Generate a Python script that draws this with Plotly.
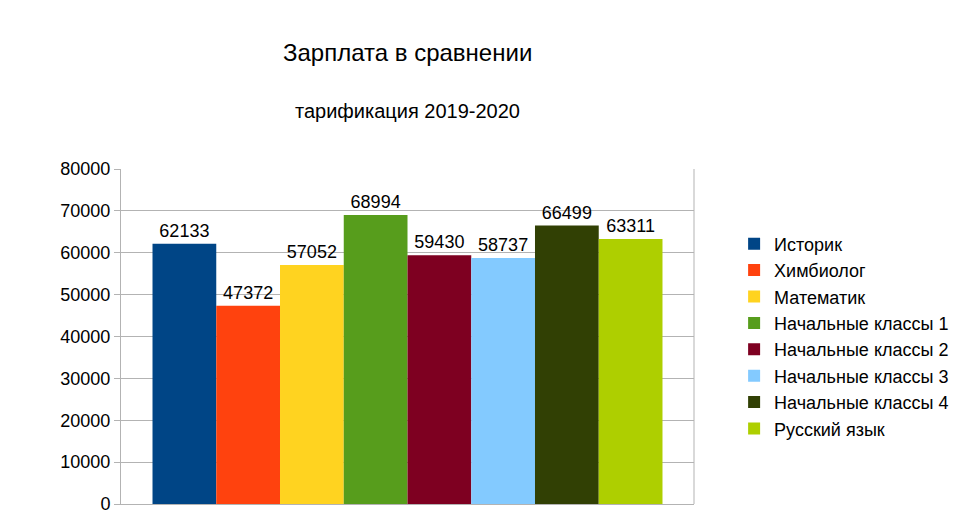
import plotly.graph_objects as go

series = ["Историк", "Химбиолог", "Математик", "Начальные классы 1", "Начальные классы 2",
          "Начальные классы 3", "Начальные классы 4", "Русский язык"]
values = [62133, 47372, 57052, 68994, 59430, 58737, 66499, 63311]
colors = ["#004586", "#ff420e", "#ffd320", "#579d1c", "#7e0021", "#83caff", "#314004", "#aecf00"]

fig = go.Figure()
for s, v, c in zip(series, values, colors):
    fig.add_trace(go.Bar(x=[""], y=[v], name=s, marker=dict(color=c, line=dict(width=0)),
                         text=[str(v)], textposition="outside", cliponaxis=False,
                         textfont=dict(size=18, color="black")))

fig.update_layout(
    width=966, height=515, barmode="group", bargap=0.11, bargroupgap=0,
    paper_bgcolor="white", plot_bgcolor="white",
    font=dict(family="Liberation Sans, Arial, sans-serif", color="black"),
    margin=dict(l=113, r=280, t=161, b=19, autoexpand=False),
    legend=dict(x=1.07, y=0.5, yanchor="middle", font=dict(size=18), tracegroupgap=0,
                itemwidth=30, traceorder="normal"),
    yaxis=dict(range=[0, 80000], dtick=10000, tickformat="d", gridcolor="#b3b3b3", showline=True,
               linecolor="#b3b3b3", ticks="outside", tickcolor="#b3b3b3", ticklen=6,
               tickfont=dict(size=18), zeroline=False, automargin=False),
    xaxis=dict(showticklabels=False, showline=True, linecolor="#b3b3b3", automargin=False),
    annotations=[
        dict(text="Зарплата в сравнении", xref="paper", yref="paper", x=0.5, y=(515-45-161)/335+0.0,
             yanchor="middle", xanchor="center", showarrow=False, font=dict(size=24)),
        dict(text="тарификация 2019-2020", xref="paper", yref="paper", x=0.5, y=1+(161-103)/335,
             yanchor="middle", xanchor="center", showarrow=False, font=dict(size=20)),
    ],
)
fig.layout.annotations[0].y = 1 + (161 - 45) / 335
fig.add_shape(type="line", xref="paper", yref="paper", x0=1, x1=1, y0=0, y1=1,
              line=dict(color="#b3b3b3", width=1))
fig.write_html("out.html")
